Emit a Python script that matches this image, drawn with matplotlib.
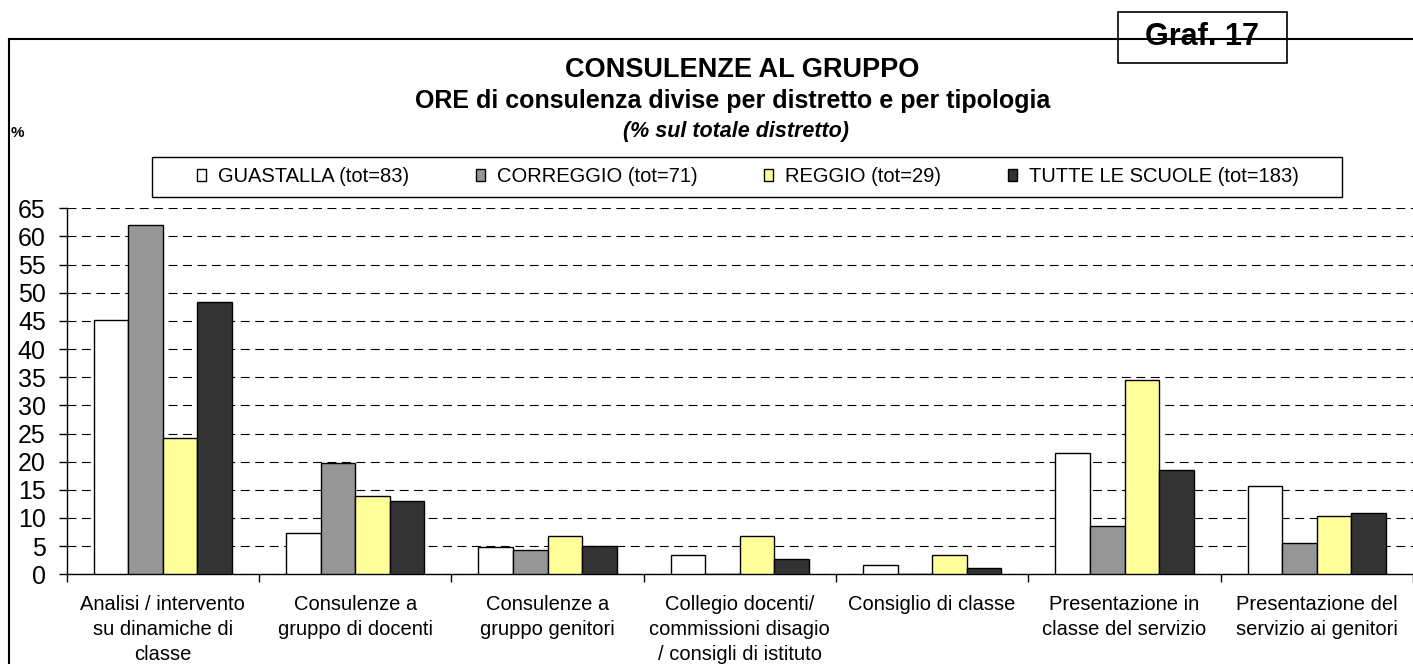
import matplotlib.pyplot as plt
import numpy as np
from matplotlib.lines import Line2D
from matplotlib.patches import Rectangle

plt.rcParams['font.family'] = ['Liberation Sans', 'DejaVu Sans']

categories = ['Analisi / intervento\nsu dinamiche di\nclasse',
              'Consulenze a\ngruppo di docenti',
              'Consulenze a\ngruppo genitori',
              'Collegio docenti/\ncommissioni disagio\n/ consigli di istituto',
              'Consiglio di classe',
              'Presentazione in\nclasse del servizio',
              'Presentazione del\nservizio ai genitori']

series_names = ['GUASTALLA (tot=83)', 'CORREGGIO (tot=71)',
                'REGGIO (tot=29)', 'TUTTE LE SCUOLE (tot=183)']

guastalla = [45.2, 7.3, 4.8, 3.5, 1.7, 21.6, 15.6]
correggio = [62.0, 19.7, 4.3, 0.0, 0.0, 8.6, 5.6]
reggio = [24.2, 13.9, 6.8, 6.8, 3.5, 34.5, 10.3]
tutte = [48.4, 13.1, 5.0, 2.8, 1.2, 18.6, 10.8]

colors = ['#ffffff', '#969696', '#ffff99', '#333333']

W, H = 1413, 664

fig = plt.figure(figsize=(W / 100, H / 100), dpi=100)
ax = fig.add_axes([66.7 / W, 1 - 574.3 / H, 1 - 66.7 / W, (574.3 - 208.3) / H])

x = np.arange(len(categories))
w = 0.18
for i, (vals, name, c) in enumerate(zip([guastalla, correggio, reggio, tutte], series_names, colors)):
    ax.bar(x + (i - 1.5) * w, vals, w, color=c, edgecolor='black', linewidth=1.0,
           label=name, zorder=3)

ax.set_xlim(-0.5, 6.44)
ax.set_ylim(0, 65)
ax.set_yticks(np.arange(0, 66, 5))
ax.tick_params(axis='y', labelsize=18, length=6, pad=9, width=1)
ax.yaxis.grid(True, linestyle=(0, (8, 5)), color='black', linewidth=0.8)
ax.set_axisbelow(True)

ax.set_xticks(x)
ax.set_xticklabels(categories, fontsize=14.5, linespacing=1.4)
ax.set_xticks(np.arange(-0.5, 7, 1), minor=True)
ax.tick_params(axis='x', which='major', length=0, pad=15)
ax.tick_params(axis='x', which='minor', length=6, width=1, direction='out')

for s in ['top', 'right']:
    ax.spines[s].set_visible(False)
ax.spines['left'].set_linewidth(1)
ax.spines['bottom'].set_linewidth(1)

# cornice esterna
fig.add_artist(Line2D([9 / W, 9 / W], [0, 1 - 39 / H], color='black', linewidth=1.5))
fig.add_artist(Line2D([9 / W, 1], [1 - 39 / H, 1 - 39 / H], color='black', linewidth=1.5))
fig.add_artist(Rectangle((1118 / W, 1 - 63 / H), 169 / W, 51 / H,
                         transform=fig.transFigure, facecolor='white',
                         edgecolor='black', linewidth=1.2))
fig.text(1202 / W, 1 - 37 / H, 'Graf. 17', ha='center', va='center',
         fontsize=22, fontweight='bold')

fig.text(742 / W, 1 - 70 / H, 'CONSULENZE AL GRUPPO', ha='center', va='center',
         fontsize=19.5, fontweight='bold')
fig.text(733 / W, 1 - 101 / H, 'ORE di consulenza divise per distretto e per tipologia',
         ha='center', va='center', fontsize=18, fontweight='bold')
fig.text(736 / W, 1 - 132 / H, '(% sul totale distretto)', ha='center', va='center',
         fontsize=15.5, fontweight='bold', style='italic')
fig.text(11 / W, 1 - 133 / H, '%', ha='left', va='center', fontsize=11, fontweight='bold')

# legenda
fig.add_artist(Rectangle((152 / W, 1 - 197 / H), 1190 / W, 40 / H,
                         transform=fig.transFigure, facecolor='white',
                         edgecolor='black', linewidth=1))
leg = fig.legend(loc='center', bbox_to_anchor=(748 / W, 1 - 177 / H), ncol=4,
                 fontsize=14.5, frameon=False,
                 handlelength=0.45, handleheight=0.55, handletextpad=0.6,
                 columnspacing=3.3, borderpad=0.2)

fig.savefig('out.png', dpi=100)
